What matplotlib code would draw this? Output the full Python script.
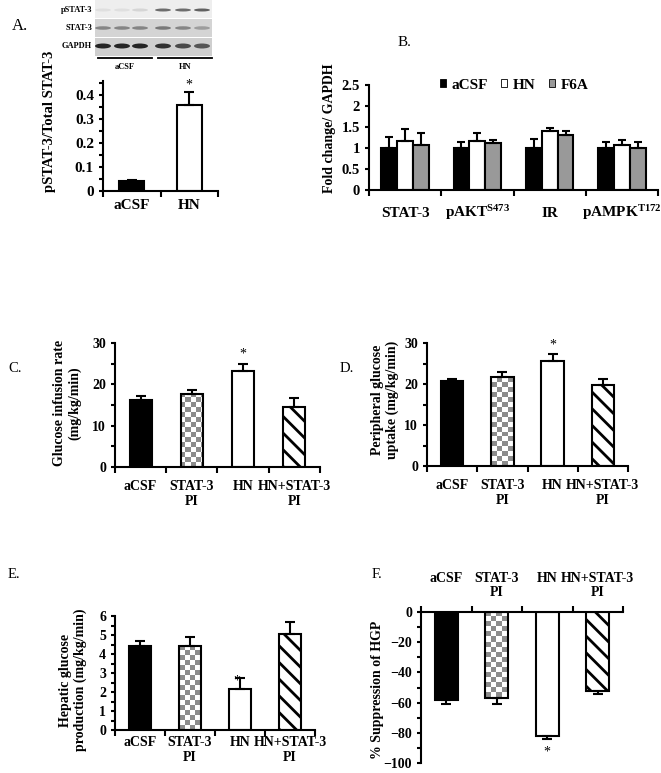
import numpy as np
import matplotlib
matplotlib.use("Agg")
import matplotlib.pyplot as plt
from matplotlib.colors import ListedColormap
from matplotlib.patches import Rectangle, Ellipse, Patch
from matplotlib.ticker import MultipleLocator
import matplotlib.transforms as mtransforms

W, H = 661, 773
plt.rcParams.update({
    "font.family": ["Liberation Serif", "DejaVu Serif"],
    "font.weight": "bold",
    "axes.linewidth": 1.5,
    "hatch.linewidth": 2.0,
    "mathtext.fontset": "custom",
    "mathtext.rm": "Liberation Serif:bold",
    "mathtext.it": "Liberation Serif:bold",
    "mathtext.bf": "Liberation Serif:bold",
})

# ---------------- data ----------------
a_groups = ["aCSF", "HN"]
a_vals = [0.04, 0.36]
a_err = [0.007, 0.055]

b_groups = ["STAT-3", r"pAKT$^{\mathrm{S473}}$", "IR", r"pAMPK$^{\mathrm{T172}}$"]
b_series = ["aCSF", "HN", "F6A"]
b_acsf = [1.0, 1.0, 1.0, 1.0]
b_acsf_err = [0.27, 0.14, 0.21, 0.14]
b_hn = [1.17, 1.17, 1.41, 1.07]
b_hn_err = [0.29, 0.18, 0.06, 0.11]
b_f6a = [1.07, 1.11, 1.31, 1.0]
b_f6a_err = [0.29, 0.07, 0.09, 0.14]

groups = ["aCSF", "STAT-3\nPI", "HN", "HN+STAT-3\nPI"]
c_vals = [16.2, 17.6, 23.3, 14.6]
c_err = [1.0, 1.0, 1.6, 2.0]
d_vals = [20.8, 21.7, 25.6, 19.7]
d_err = [0.4, 1.2, 1.6, 1.6]
e_vals = [4.4, 4.4, 2.15, 5.05]
e_err = [0.3, 0.5, 0.6, 0.65]
f_vals = [-58.5, -57.0, -82.0, -52.5]
f_err = [2.5, 4.0, 2.0, 1.5]

# blot band darkness (decorative)
blot_rows = ["pSTAT-3", "STAT-3", "GAPDH"]
p_bands = [0.08, 0.08, 0.12, 0.55, 0.55, 0.6]
s_bands = [0.45, 0.45, 0.45, 0.5, 0.45, 0.35]
g_bands = [0.85, 0.85, 0.85, 0.8, 0.7, 0.65]

fig = plt.figure(figsize=(W / 100, H / 100), dpi=100)


def px_axes(l, t, r, b):
    return fig.add_axes([l / W, 1 - b / H, (r - l) / W, (b - t) / H])


def style_axes(ax, ncat, top=False):
    ax.spines["right"].set_visible(False)
    if top:
        ax.spines["bottom"].set_visible(False)
        ax.xaxis.tick_top()
    else:
        ax.spines["top"].set_visible(False)
    ax.set_xlim(-0.5, ncat - 0.5)
    ax.set_xticks(np.arange(ncat + 1) - 0.5, minor=True)
    ax.tick_params(axis="x", which="minor", length=4, width=1.5, direction="out")
    ax.tick_params(axis="y", which="both", length=3, width=1.5, direction="out")


def set_ylabel_px(ax, text, l, t, r, b, px, py, size):
    ax.set_ylabel(text, fontsize=size, fontweight="bold", va="center",
                  multialignment="center", linespacing=1.15)
    ax.yaxis.set_label_coords((px - l) / (r - l), (b - py) / (b - t))


def pattern_bars(ax, vals, errs, width, down=False):
    x = np.arange(len(vals))
    styles = ["black", "checker", "white", "hatch"]
    ylim = ax.get_ylim()
    xlim = ax.get_xlim()
    pos = ax.get_position()
    wpx, hpx = pos.width * W, pos.height * H
    for i, st in enumerate(styles):
        fc = {"black": "black", "white": "white", "hatch": "white", "checker": "none"}[st]
        hatch = "\\\\" if st == "hatch" else None
        bc = ax.bar(x[i], vals[i], width, color=fc, edgecolor="black",
                    linewidth=1.5, hatch=hatch, zorder=2)
        if st == "checker":
            nr, nc = int(round(hpx / 5)), int(round(wpx / 5))
            arr = np.add.outer(np.arange(nr), np.arange(nc)) % 2
            im = ax.imshow(arr, cmap=ListedColormap(["white", "#8c8c8c"]),
                           extent=(xlim[0], xlim[1], ylim[0], ylim[1]),
                           aspect="auto", interpolation="nearest", zorder=1.5)
            im.set_clip_path(bc[0])
    ax.set_xlim(xlim)
    ax.set_ylim(ylim)
    z = np.zeros(len(vals))
    yerr = [errs, z] if down else [z, errs]
    ax.errorbar(x, vals, yerr=yerr, fmt="none", ecolor="black", elinewidth=1.5,
                capsize=3.5, capthick=1.5, zorder=3)


# ---------------- blot (panel A top) ----------------
axb = px_axes(50, 0, 215, 75)
axb.set_xlim(50, 215)
axb.set_ylim(75, 0)
axb.axis("off")
lanes = [103, 122, 140, 163, 183, 202]
row_y = [10, 28, 46]
row_bg = ["#eeeeee", "#d4d4d4", "#cfcfcf"]
row_top = [0, 19, 38]
band_h = [3.0, 3.5, 5.0]
for r, (name, bands) in enumerate(zip(blot_rows, [p_bands, s_bands, g_bands])):
    axb.add_patch(Rectangle((95, row_top[r]), 117, 17.5, color=row_bg[r], lw=0))
    for cx, d in zip(lanes, bands):
        g = 1 - d
        axb.add_patch(Ellipse((cx, row_y[r]), 16, band_h[r], color=(g * 0.95, g * 0.95, g * 0.95), lw=0))
    axb.text(92, row_y[r], name, ha="right", va="center", fontsize=6, fontweight="bold")
axb.plot([98, 152], [58, 58], color="black", lw=1.3)
axb.plot([158, 212], [58, 58], color="black", lw=1.3)
axb.text(125, 67, "aCSF", ha="center", va="center", fontsize=6, fontweight="bold")
axb.text(185, 67, "HN", ha="center", va="center", fontsize=6, fontweight="bold")

# ---------------- panel A ----------------
L, T, R, B = 103, 81, 218, 191
axA = px_axes(L, T, R, B)
axA.set_ylim(0, 0.46)
style_axes(axA, 2)
xa = np.arange(2)
axA.bar(xa, a_vals, 0.43, color=["black", "white"], edgecolor="black", linewidth=1.5, zorder=2)
axA.errorbar(xa, a_vals, yerr=[np.zeros(2), a_err], fmt="none", ecolor="black",
             elinewidth=1.5, capsize=3.5, capthick=1.5, zorder=3)
axA.set_yticks([0, 0.1, 0.2, 0.3, 0.4], ["0", "0.1", "0.2", "0.3", "0.4"])
axA.yaxis.set_minor_locator(MultipleLocator(0.05))
axA.set_xticks(xa, a_groups)
axA.tick_params(axis="x", which="major", length=0, pad=6, labelsize=11)
axA.tick_params(axis="y", labelsize=11)
axA.text(1, 0.445, "*", ha="center", va="center", fontsize=10, fontweight="normal")
set_ylabel_px(axA, "pSTAT-3/Total STAT-3", L, T, R, B, 50, 121, 10.5)

# ---------------- panel B ----------------
L, T, R, B = 369, 85, 658, 190
axB = px_axes(L, T, R, B)
axB.set_ylim(0, 2.5)
style_axes(axB, 4)
xb = np.arange(4)
bw = 0.22
hb = []
for k, (vals, errs, col) in enumerate(zip([b_acsf, b_hn, b_f6a],
                                          [b_acsf_err, b_hn_err, b_f6a_err],
                                          ["black", "white", "#999999"])):
    bc = axB.bar(xb + (k - 1) * bw, vals, bw, color=col, edgecolor="black", linewidth=1.5, zorder=2)
    axB.errorbar(xb + (k - 1) * bw, vals, yerr=[np.zeros(4), errs], fmt="none", ecolor="black",
                 elinewidth=1.5, capsize=3, capthick=1.5, zorder=3)
    hb.append(Patch(facecolor=col, edgecolor="black", linewidth=0.6))
axB.set_yticks([0, 0.5, 1, 1.5, 2, 2.5], ["0", "0.5", "1", "1.5", "2", "2.5"])
axB.set_xticks([])
axB.tick_params(axis="y", labelsize=10.5)
trB = mtransforms.blended_transform_factory(axB.transData, axB.transAxes)
for i, g in enumerate(b_groups):
    axB.text(i, -0.255, g, transform=trB, ha="center", va="baseline", fontsize=11, fontweight="bold")
axB.legend(hb, b_series, loc="upper left", bbox_to_anchor=(0.245, 1.06), ncol=3, frameon=False,
           fontsize=11, handlelength=0.4, handleheight=0.4, handletextpad=0.35,
           columnspacing=0.9, borderpad=0, borderaxespad=0)
set_ylabel_px(axB, "Fold change/ GAPDH", L, T, R, B, 330, 128, 10)

# ---------------- panel C ----------------
L, T, R, B = 115, 343, 320, 467
axC = px_axes(L, T, R, B)
axC.set_ylim(0, 30)
style_axes(axC, 4)
pattern_bars(axC, c_vals, c_err, 0.43)
axC.set_yticks([0, 10, 20, 30])
axC.yaxis.set_minor_locator(MultipleLocator(5))
axC.set_xticks(np.arange(4), groups)
axC.tick_params(axis="x", which="major", length=0, pad=9, labelsize=10)
axC.tick_params(axis="y", labelsize=10)
axC.text(2, 27.3, "*", ha="center", va="center", fontsize=10, fontweight="normal")
set_ylabel_px(axC, "Glucose infusion rate\n(mg/kg/min)", L, T, R, B, 67, 403, 10)

# ---------------- panel D ----------------
L, T, R, B = 427, 343, 628, 466
axD = px_axes(L, T, R, B)
axD.set_ylim(0, 30)
style_axes(axD, 4)
pattern_bars(axD, d_vals, d_err, 0.45)
axD.set_yticks([0, 10, 20, 30])
axD.yaxis.set_minor_locator(MultipleLocator(5))
axD.set_xticks(np.arange(4), groups)
axD.tick_params(axis="x", which="major", length=0, pad=9, labelsize=10)
axD.tick_params(axis="y", labelsize=10)
axD.text(2, 29.5, "*", ha="center", va="center", fontsize=10, fontweight="normal")
set_ylabel_px(axD, "Peripheral glucose\nuptake (mg/kg/min)", L, T, R, B, 385, 400, 10)

# ---------------- panel E ----------------
L, T, R, B = 115, 616, 315, 730
axE = px_axes(L, T, R, B)
axE.set_ylim(0, 6)
style_axes(axE, 4)
pattern_bars(axE, e_vals, e_err, 0.44)
axE.set_yticks([0, 1, 2, 3, 4, 5, 6])
axE.yaxis.set_minor_locator(MultipleLocator(0.5))
axE.set_xticks(np.arange(4), groups)
axE.tick_params(axis="x", which="major", length=0, pad=4, labelsize=10)
axE.tick_params(axis="y", labelsize=10)
axE.text(1.93, 2.6, "*", ha="center", va="center", fontsize=10, fontweight="normal")
set_ylabel_px(axE, "Hepatic glucose\nproduction (mg/kg/min)", L, T, R, B, 73, 680, 10)

# ---------------- panel F ----------------
L, T, R, B = 421, 612, 623, 763
axF = px_axes(L, T, R, B)
axF.set_ylim(-100, 0)
style_axes(axF, 4, top=True)
pattern_bars(axF, f_vals, f_err, 0.45, down=True)
axF.set_yticks([-100, -80, -60, -40, -20, 0])
axF.yaxis.set_minor_locator(MultipleLocator(10))
f_labels = [g if "\n" in g else g + "\n " for g in groups]
axF.set_xticks(np.arange(4), f_labels)
axF.tick_params(axis="x", which="major", length=0, pad=9, labelsize=10)
axF.tick_params(axis="y", labelsize=10)
axF.text(2, -93, "*", ha="center", va="center", fontsize=10, fontweight="normal")
set_ylabel_px(axF, "% Suppression of HGP", L, T, R, B, 377, 690, 10)

# ---------------- panel letters ----------------
for lab, (px, py), fs in [("A.", (12, 26), 12), ("B.", (398, 43), 11), ("C.", (8, 369), 10.5),
                          ("D.", (340, 369), 10.5), ("E.", (8, 575), 10.5), ("F.", (372, 574), 10.5)]:
    fig.text(px / W, 1 - py / H, lab, ha="left", va="center", fontsize=fs, fontweight="normal")

fig.savefig("out.png", dpi=100)
